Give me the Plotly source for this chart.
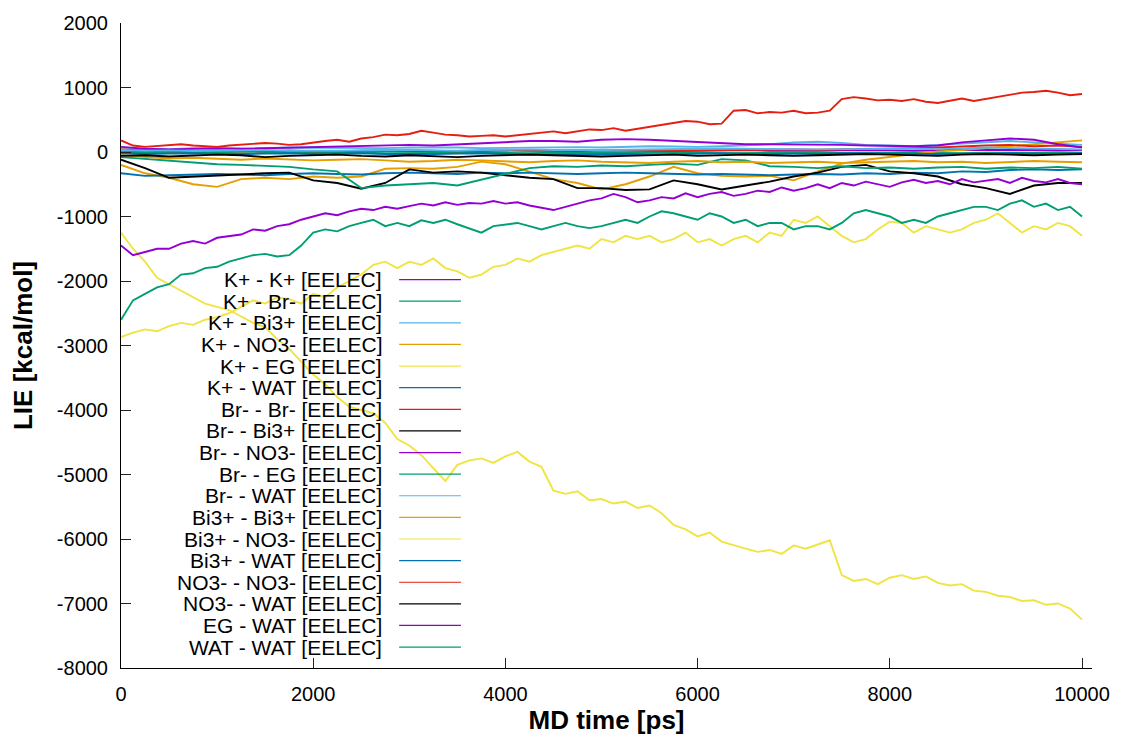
import plotly.graph_objects as go

# ---------------- data ----------------
time_fine = list(range(0, 10001, 125))     # 81 samples
time_coarse = list(range(0, 10001, 250))   # 41 samples

series_names = [
    "K+ - K+ [EELEC]", "K+ - Br- [EELEC]", "K+ - Bi3+ [EELEC]", "K+ - NO3- [EELEC]",
    "K+ - EG [EELEC]", "K+ - WAT [EELEC]", "Br- - Br- [EELEC]", "Br- - Bi3+ [EELEC]",
    "Br- - NO3- [EELEC]", "Br- - EG [EELEC]", "Br- - WAT [EELEC]", "Bi3+ - Bi3+ [EELEC]",
    "Bi3+ - NO3- [EELEC]", "Bi3+ - WAT [EELEC]", "NO3- - NO3- [EELEC]", "NO3- - WAT [EELEC]",
    "EG - WAT [EELEC]", "WAT - WAT [EELEC]",
]

k_k = [20, 15, 10, 20, 25, 15, 10, 20, 15, 10, 20, 25, 20, 15, 10, 20, 25, 30, 20, 15,
       25, 20, 10, 15, 20, 25, 30, 20, 15, 20, 25, 30, 25, 20, 30, 35, 30, 25, 30, 35, 30]
k_br = [-20, -10, -15, -5, -10, -20, -15, -10, -5, -15, -10, -20, -15, -10, -5, -10, -15, -20, -10, -5,
        -10, -15, -10, -5, -10, -20, -15, -10, -5, -10, -15, -10, -5, -10, -15, -20, -10, -15, -10, -5, -10]
k_bi = [40, 50, 45, 60, 55, 50, 60, 70, 65, 60, 55, 60, 70, 75, 70, 60, 65, 70, 80, 75,
        70, 80, 90, 85, 80, 90, 100, 120, 150, 160, 140, 110, 100, 90, 110, 130, 160, 170, 150, 130, 110]
k_no3 = [-200, -330, -400, -500, -540, -420, -400, -420, -380, -400, -380, -260, -250, -260, -230, -150,
         -190, -300, -420, -480, -580, -500, -380, -230, -330, -370, -380, -370, -440, -300, -180, -120,
         -80, -40, 10, 30, 60, 80, 110, 140, 180]
k_eg = [-2870, -2800, -2750, -2780, -2700, -2650, -2680, -2600, -2560, -2500,
        -2400, -2300, -2350, -2250, -2280, -2350, -2200, -2250, -2100, -2000,
        -1900, -1750, -1700, -1800, -1700, -1750, -1650, -1800, -1850, -1950,
        -1900, -1780, -1750, -1650, -1700, -1600, -1550, -1500, -1450, -1500,
        -1350, -1400, -1300, -1350, -1300, -1400, -1350, -1250, -1400, -1350,
        -1450, -1350, -1300, -1400, -1250, -1300, -1050, -1100, -1000, -1150,
        -1300, -1400, -1350, -1200, -1080, -1100, -1250, -1150, -1200, -1250,
        -1200, -1100, -1050, -950, -1100, -1250, -1150, -1200, -1100, -1150, -1300]
k_wat = [-330, -370, -360, -350, -340, -350, -360, -340, -330, -340, -350, -330, -320, -330, -340, -320,
         -330, -320, -330, -340, -330, -320, -330, -340, -350, -340, -350, -360, -350, -340, -350, -330,
         -340, -320, -330, -300, -310, -280, -270, -280, -270]
br_br = [40, 20, 10, 15, 20, 10, 15, 20, 10, 15, 20, 25, 15, 20, 10, 20, 25, 20, 15, 20,
         25, 20, 15, 20, 25, 30, 25, 30, 40, 35, 40, 50, 45, 60, 70, 90, 100, 110, 90, 100, 80]
br_bi = [-120, -250, -400, -380, -370, -350, -330, -320, -440, -480, -570, -480, -270, -320, -300, -320,
         -360, -400, -420, -560, -560, -590, -580, -440, -500, -580, -520, -460, -380, -320, -230, -200,
         -300, -330, -380, -500, -560, -650, -520, -480, -480]
br_no3 = [80, 50, 40, 50, 60, 50, 60, 70, 80, 80, 90, 100, 110, 100, 120, 130, 160, 170, 170, 160,
          190, 200, 190, 170, 150, 130, 120, 120, 120, 110, 110, 100, 90, 90, 100, 150, 180, 210, 190, 120, 70]
br_eg = [-80, -110, -130, -170, -190, -200, -210, -230, -270, -300, -560, -520, -500, -480, -520, -430,
         -340, -250, -220, -230, -210, -220, -200, -180, -200, -110, -130, -220, -230, -250, -220, -250,
         -240, -260, -240, -230, -260, -240, -250, -230, -260]
br_wat = [30, 20, 25, 15, 20, 25, 30, 20, 15, 20, 25, 30, 35, 25, 20, 30, 35, 40, 30, 25,
          30, 35, 40, 50, 60, 55, 50, 45, 50, 40, 45, 50, 55, 50, 45, 60, 70, 60, 50, 45, 40]
bi_bi = [-50, -80, -100, -90, -110, -120, -100, -110, -130, -120, -110, -130, -150, -140, -120, -130,
         -150, -160, -140, -130, -150, -160, -170, -150, -140, -160, -150, -170, -160, -150, -170, -160,
         -150, -140, -160, -150, -170, -160, -140, -150, -160]
bi_no3 = [-1250, -1500, -1700, -1950, -2050, -2150, -2250, -2350, -2400, -2450,
          -2550, -2650, -2720, -2900, -3050, -3250, -3450, -3600, -3800, -3950,
          -4000, -4050, -4200, -4450, -4550, -4700, -4900, -5100, -4850, -4780,
          -4750, -4820, -4720, -4650, -4800, -4880, -5250, -5300, -5260, -5400,
          -5380, -5450, -5420, -5520, -5480, -5600, -5780, -5850, -5960, -5900,
          -6040, -6100, -6150, -6200, -6170, -6230, -6100, -6150, -6080, -6020,
          -6560, -6650, -6620, -6700, -6600, -6560, -6620, -6580, -6680, -6720,
          -6700, -6800, -6820, -6880, -6900, -6960, -6950, -7020, -7000, -7080, -7250]
bi_wat = [-20, -30, -25, -20, -30, -35, -25, -20, -30, -25, -20, -30, -35, -30, -25, -20,
          -30, -40, -35, -30, -25, -30, -40, -35, -30, -20, -30, -35, -25, -30, -20, -25,
          -30, -35, -30, -25, -30, -20, -25, -30, -20]
no3_no3 = [180, 100, 80, 90, 110, 120, 100, 90, 80, 100,
           110, 120, 140, 130, 110, 120, 150, 170, 190, 160,
           210, 230, 270, 260, 280, 330, 300, 270, 260, 240,
           250, 260, 240, 260, 280, 300, 320, 290, 320, 350,
           340, 370, 330, 360, 380, 420, 450, 480, 470, 430,
           440, 640, 650, 600, 620, 610, 640, 600, 610, 640,
           820, 850, 830, 800, 810, 790, 820, 780, 760, 800,
           830, 790, 820, 850, 880, 920, 930, 950, 920, 880, 900]
no3_wat = [-60, -50, -70, -60, -40, -50, -80, -60, -50, -40, -60, -70, -50, -60, -80, -60,
           -50, -40, -50, -60, -70, -60, -50, -40, -60, -50, -40, -50, -60, -50, -40, -30,
           -40, -50, -60, -40, -30, -40, -50, -40, -30]
eg_wat = [-1450, -1600, -1550, -1500, -1500, -1420, -1380, -1420, -1330, -1300,
          -1280, -1200, -1220, -1150, -1120, -1050, -1000, -950, -980, -920,
          -880, -900, -850, -880, -840, -800, -830, -780, -820, -790,
          -800, -760, -800, -780, -830, -860, -900, -850, -800, -750,
          -720, -650, -700, -780, -750, -700, -720, -640, -700, -650,
          -620, -680, -650, -600, -620, -550, -600, -560, -500, -560,
          -480, -520, -460, -500, -540, -470, -430, -480, -450, -500,
          -420, -470, -450, -420, -480, -400, -450, -470, -420, -480, -500]
wat_wat = [-2600, -2300, -2200, -2100, -2050, -1900, -1880, -1800, -1780, -1700,
           -1650, -1600, -1580, -1620, -1600, -1450, -1250, -1200, -1230, -1150,
           -1100, -1050, -1150, -1100, -1150, -1060, -1100, -1050, -1120, -1180,
           -1250, -1150, -1120, -1100, -1150, -1200, -1150, -1100, -1150, -1180,
           -1150, -1100, -1050, -1100, -1000, -920, -950, -1000, -1050, -950,
           -1000, -1100, -1050, -1150, -1100, -1100, -1200, -1150, -1150, -1200,
           -1100, -950, -900, -950, -1000, -1100, -1050, -1100, -1000, -950,
           -900, -850, -850, -900, -800, -750, -850, -800, -900, -850, -1000]

series_values = [k_k, k_br, k_bi, k_no3, k_eg, k_wat, br_br, br_bi, br_no3, br_eg,
                 br_wat, bi_bi, bi_no3, bi_wat, no3_no3, no3_wat, eg_wat, wat_wat]

x_ticks = [0, 2000, 4000, 6000, 8000, 10000]
y_ticks = [2000, 1000, 0, -1000, -2000, -3000, -4000, -5000, -6000, -7000, -8000]

# ---------------- style ----------------
palette = ["#9400d3", "#009e73", "#56b4e9", "#e69f00",
           "#f0e442", "#0072b2", "#e51e10", "#000000"]
FONT = "Liberation Sans, Arial, sans-serif"

W, H = 1122, 740
ML, MR, MT, MB = 121, 27, 22, 72
PW, PH = W - ML - MR, H - MT - MB

def paper_x(px):
    return (px - ML) / PW

def paper_y(py):
    return (H - MB - py) / PH

fig = go.Figure()
annotations = []
shapes = []
for i, (name, vals) in enumerate(zip(series_names, series_values)):
    color = palette[i % len(palette)]
    xs = time_fine if len(vals) == len(time_fine) else time_coarse
    fig.add_trace(go.Scatter(x=xs, y=vals, mode="lines", name=name,
                             line=dict(color=color, width=1.9),
                             showlegend=False, hoverinfo="skip"))
    row_y = 279 + i * 21.65
    annotations.append(dict(xref="paper", yref="paper", x=paper_x(385), y=paper_y(row_y),
                            text=name, showarrow=False, xanchor="right", yanchor="middle",
                            font=dict(family=FONT, size=21, color="#000000")))
    shapes.append(dict(type="line", xref="paper", yref="paper",
                       x0=paper_x(400), x1=paper_x(462), y0=paper_y(row_y), y1=paper_y(row_y),
                       line=dict(color=color, width=1.2)))

fig.update_layout(
    width=W, height=H,
    margin=dict(l=ML, r=MR, t=MT, b=MB, pad=0),
    paper_bgcolor="white", plot_bgcolor="white",
    annotations=annotations, shapes=shapes,
    font=dict(family=FONT, color="#000000"),
)
fig.update_xaxes(
    range=[0, 10104], tickvals=x_ticks, ticktext=[str(v) for v in x_ticks],
    ticks="inside", ticklen=10, tickwidth=1, tickcolor="#222222",
    showline=True, linecolor="#000000", linewidth=1,
    showgrid=False, zeroline=False,
    tickfont=dict(family=FONT, size=20, color="#000000"),
    ticklabelstandoff=8,
    title=dict(text="<b>MD time [ps]</b>", font=dict(family=FONT, size=26, color="#000000"), standoff=4),
)
fig.update_yaxes(
    range=[-8000, 2000], tickvals=y_ticks, ticktext=[str(v) for v in y_ticks],
    ticks="inside", ticklen=10, tickwidth=1, tickcolor="#222222",
    showline=True, linecolor="#000000", linewidth=1,
    showgrid=False, zeroline=False,
    tickfont=dict(family=FONT, size=20, color="#000000"),
    ticklabelstandoff=8,
    title=dict(text="<b>LIE [kcal/mol]</b>", font=dict(family=FONT, size=26, color="#000000"), standoff=16),
)

fig.write_html("out.html")
